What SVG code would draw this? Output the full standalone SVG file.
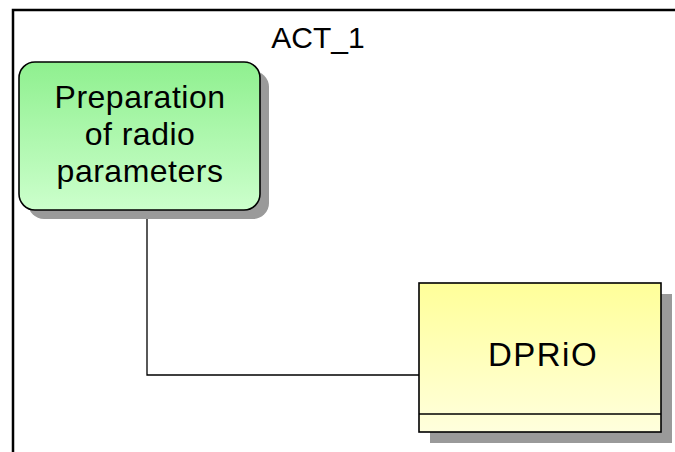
<svg xmlns="http://www.w3.org/2000/svg" width="675" height="452" viewBox="0 0 675 452">
<style>
text{font-family:"Liberation Sans",Arial,sans-serif;fill:#000;text-anchor:middle}
.lbl{font-size:32px;letter-spacing:0.5px}
.shadow{fill:#9a9a9a}
.box{stroke:#000;stroke-width:1.6}
.conn{fill:none;stroke:#000;stroke-width:1.3}
</style>
<defs>
<linearGradient id="gGreen" x1="0" y1="0" x2="0" y2="1">
<stop offset="0" stop-color="#8ff08f"/>
<stop offset="1" stop-color="#ccffcc"/>
</linearGradient>
<linearGradient id="gYellow" x1="0" y1="0" x2="0" y2="1">
<stop offset="0" stop-color="#ffff99"/>
<stop offset="1" stop-color="#ffffdd"/>
</linearGradient>
</defs>
<rect width="675" height="452" fill="#fff"/>
<g id="frame">
<path d="M13 460 V10 H680" fill="none" stroke="#000" stroke-width="2.5"/>
<text x="318" y="48" font-size="30">ACT_1</text>
</g>
<g id="connectors">
<path class="conn" d="M147 210 V375 H419"/>
</g>
<g id="node-prep">
<rect class="shadow" x="28" y="71" width="241" height="148" rx="16"/>
<rect class="box" x="19" y="62" width="241" height="148" rx="16" fill="url(#gGreen)"/>
<text class="lbl" x="140" y="108">Preparation</text>
<text class="lbl" x="140" y="145">of radio</text>
<text class="lbl" x="140" y="182">parameters</text>
</g>
<g id="node-dprio">
<rect class="shadow" x="430" y="294" width="242" height="149"/>
<rect class="box" x="419" y="283" width="242" height="149" fill="url(#gYellow)"/>
<line class="box" x1="419" y1="414" x2="661" y2="414"/>
<text x="543" y="366" font-size="33" letter-spacing="1.5">DPRiO</text>
</g>
</svg>
